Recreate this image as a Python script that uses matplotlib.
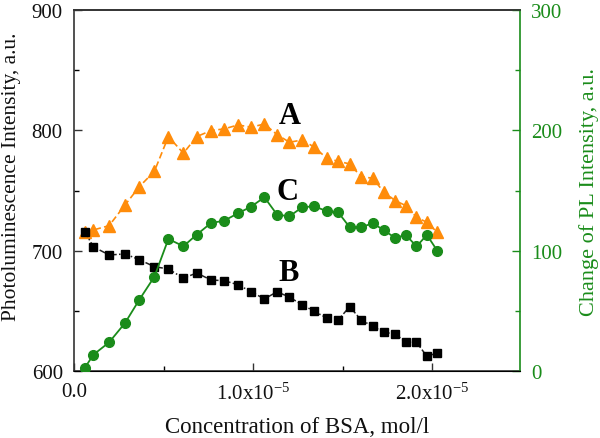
import numpy as np
import matplotlib
matplotlib.use('Agg')
import matplotlib.pyplot as plt
from matplotlib.ticker import MultipleLocator, FixedLocator, FixedFormatter

plt.rcParams['font.family'] = ['Liberation Serif', 'DejaVu Serif']
plt.rcParams['mathtext.fontset'] = 'custom'
plt.rcParams['mathtext.rm'] = 'Liberation Serif'
plt.rcParams['mathtext.it'] = 'Liberation Serif:italic'

# BSA concentration, in units of 1e-5 mol/l
conc = [0.06, 0.108, 0.196, 0.285, 0.365, 0.449, 0.527, 0.611, 0.685, 0.765,
        0.838, 0.916, 0.989, 1.063, 1.134, 1.203, 1.274, 1.342, 1.411, 1.475,
        1.539, 1.603, 1.668, 1.728, 1.793, 1.853, 1.912, 1.970, 2.028]

# curve A - PL intensity (left axis)
pl_a = [715.3, 717.2, 720.8, 738.0, 753.2, 766.0, 794.8, 781.0, 794.8, 799.8,
        801.2, 804.5, 802.6, 805.3, 796.4, 790.1, 792.0, 786.0, 776.8, 774.3,
        772.1, 761.5, 760.2, 749.0, 741.6, 737.4, 727.8, 723.6, 715.3]

# curve B - PL intensity (left axis)
pl_b = [715.8, 703.3, 696.4, 697.3, 692.5, 686.7, 684.8, 677.1, 681.5, 675.6,
        675.1, 671.7, 665.9, 659.9, 665.9, 661.3, 655.1, 649.5, 644.1, 642.4,
        653.5, 642.4, 637.2, 632.2, 630.8, 623.9, 623.9, 612.2, 615.0]

# curve C - change of PL intensity (right axis)
pl_c = [2.5, 13.5, 23.8, 39.9, 59.3, 78.4, 109.7, 103.7, 113.3, 123.0,
        124.9, 131.1, 136.6, 144.4, 129.9, 128.6, 136.1, 136.9, 132.8, 131.9,
        119.5, 119.5, 122.8, 117.2, 110.6, 113.1, 103.5, 113.1, 100.0]

orange = '#ff8c0a'
green = '#1a8c1a'
axcol = '#333333'

fig = plt.figure(figsize=(6.0, 4.39), dpi=100)
ax = fig.add_axes([0.1233, 0.1526, 0.7434, 0.8223])
ax2 = ax.twinx()

ax.plot(conc, pl_a, ls=(0, (4, 2)), lw=1.2, color=orange, marker='^',
        ms=8.5, mec=orange, mfc=orange, zorder=3)
ax.plot(conc, pl_b, ls=(0, (4, 1.5, 1, 1.5)), lw=1.1, color='#222222', marker='s',
        ms=6, mec='black', mfc='black', zorder=3)
ax2.plot(conc, pl_c, ls='-', lw=1.3, color=green, marker='o',
         ms=7, mec=green, mfc=green, zorder=3)

ax.set_xlim(0, 2.49)
ax.set_ylim(600, 900)
ax2.set_ylim(0, 300)

ax.xaxis.set_major_locator(FixedLocator([0, 1, 2]))
ax.xaxis.set_major_formatter(FixedFormatter(['0.0', r'1.0x10$^{-5}$', r'2.0x10$^{-5}$']))
ax.xaxis.set_minor_locator(FixedLocator([0.5, 1.5]))
ax.yaxis.set_major_locator(MultipleLocator(100))
ax.yaxis.set_minor_locator(MultipleLocator(50))
ax2.yaxis.set_major_locator(MultipleLocator(100))
ax2.yaxis.set_minor_locator(MultipleLocator(50))

for a in (ax, ax2):
    a.tick_params(which='major', direction='in', length=6, width=1.0, labelsize=15)
    a.tick_params(which='minor', direction='in', length=3.5, width=1.0)
ax.tick_params(axis='both', colors=axcol, labelcolor='#111111', pad=8)
ax.tick_params(axis='y', which='both', right=False, pad=8)
ax2.tick_params(axis='y', which='both', colors=green, labelcolor=green, pad=8)

for s in ['left', 'bottom', 'top']:
    ax.spines[s].set_color(axcol)
    ax.spines[s].set_linewidth(1.2)
ax2.spines['right'].set_color(green)
ax2.spines['right'].set_linewidth(1.2)
ax2.spines['top'].set_color(axcol)
ax2.spines['top'].set_linewidth(1.2)
ax2.spines['left'].set_visible(False)
ax.spines['right'].set_visible(False)

ax.set_xlabel('Concentration of BSA, mol/l', fontsize=16.5, color='#111111', labelpad=9)
ax.set_ylabel('Photoluminescence Intensity, a.u.', fontsize=15.5, color='#111111')
ax.yaxis.set_label_coords(-0.118, 0.54)
ax2.set_ylabel('Change of PL Intensity, a.u.', fontsize=16, color=green, labelpad=12)

ax.text(1.207, 812, 'A', fontsize=22, fontweight='bold', ha='center', va='center')
ax.text(1.197, 682, 'B', fontsize=22, fontweight='bold', ha='center', va='center')
ax.text(1.194, 749, 'C', fontsize=22, fontweight='bold', ha='center', va='center')

fig.savefig('out.png', dpi=100)
